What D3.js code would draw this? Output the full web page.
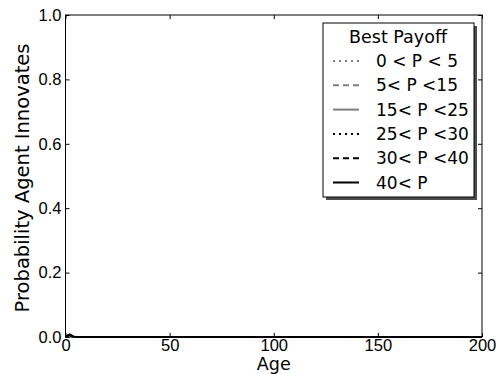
<!DOCTYPE html>
<html>
<head>
<meta charset="utf-8">
<script src="https://cdn.jsdelivr.net/npm/d3@7"></script>
<style>
  body { margin: 0; background: #fff; }
  svg { font-family: "DejaVu Sans", sans-serif; }
</style>
</head>
<body>
<svg id="chart"></svg>
<script>
var seriesNames = ["0 < P < 5", "5< P <15", "15< P <25", "25< P <30", "30< P <40", "40< P"];
var seriesColors = ["#808080", "#808080", "#808080", "#000000", "#000000", "#000000"];
var seriesDash = ["2,4", "6,4", null, "2,4", "6,4", null];

// ages sampled and probabilities (all near zero, small bump at start)
var ages = [0, 1, 2, 3, 4, 5, 10, 50, 100, 150, 200];
var probs = [
  [0, 0.002, 0.004, 0.002, 0, 0, 0, 0, 0, 0, 0],
  [0, 0.003, 0.005, 0.003, 0.001, 0, 0, 0, 0, 0, 0],
  [0, 0.003, 0.006, 0.003, 0.001, 0, 0, 0, 0, 0, 0],
  [0, 0.004, 0.007, 0.004, 0.001, 0, 0, 0, 0, 0, 0],
  [0, 0.004, 0.007, 0.004, 0.001, 0, 0, 0, 0, 0, 0],
  [0, 0.004, 0.008, 0.004, 0.001, 0, 0, 0, 0, 0, 0]
];

var xTicks = [0, 50, 100, 150, 200];
var yTicks = [0, 0.2, 0.4, 0.6, 0.8, 1.0];

var width = 496, height = 374;
var margin = {left: 65.5, right: 14, top: 15, bottom: 37};
var svg = d3.select("#chart").attr("width", width).attr("height", height);

var x = d3.scaleLinear().domain([0, 200]).range([margin.left, width - margin.right]);
var y = d3.scaleLinear().domain([0, 1]).range([height - margin.bottom, margin.top]);

// axes with ticks pointing inwards on all four sides
svg.append("g")
    .attr("transform", "translate(0," + y(0) + ")")
    .call(d3.axisBottom(x).tickValues(xTicks).tickSizeInner(-4).tickSizeOuter(0).tickPadding(2).tickFormat(d3.format("d")))
    .call(g => g.select(".domain").remove())
    .selectAll("text").attr("font-size", 16.5).attr("fill", "#000");
svg.append("g")
    .attr("transform", "translate(0," + y(1) + ")")
    .call(d3.axisTop(x).tickValues(xTicks).tickSizeInner(-4).tickSizeOuter(0).tickFormat(""))
    .call(g => g.select(".domain").remove());
svg.append("g")
    .attr("transform", "translate(" + x(0) + ",0)")
    .call(d3.axisLeft(y).tickValues(yTicks).tickSizeInner(-4).tickSizeOuter(0).tickPadding(4).tickFormat(d3.format(".1f")))
    .call(g => g.select(".domain").remove())
    .selectAll("text").attr("font-size", 16.5).attr("fill", "#000");
svg.append("g")
    .attr("transform", "translate(" + x(200) + ",0)")
    .call(d3.axisRight(y).tickValues(yTicks).tickSizeInner(-4).tickSizeOuter(0).tickFormat(""))
    .call(g => g.select(".domain").remove());

// lines
var line = d3.line().x((d, i) => x(ages[i])).y(d => y(d));
probs.forEach((s, k) => {
  svg.append("path")
      .datum(s)
      .attr("d", line)
      .attr("fill", "none")
      .attr("stroke", seriesColors[k])
      .attr("stroke-width", 2)
      .attr("stroke-dasharray", seriesDash[k]);
});

// frame
svg.append("rect")
    .attr("x", x(0)).attr("y", y(1))
    .attr("width", x(200) - x(0)).attr("height", y(0) - y(1))
    .attr("fill", "none").attr("stroke", "#000").attr("stroke-width", 1);

// axis labels
svg.append("text")
    .attr("x", (x(0) + x(200)) / 2).attr("y", 370)
    .attr("text-anchor", "middle").attr("font-size", 17.5)
    .text("Age");
svg.append("text")
    .attr("transform", "translate(28.5," + ((y(0) + y(1)) / 2 + 2) + ") rotate(-90)")
    .attr("text-anchor", "middle").attr("font-size", 19.5)
    .text("Probability Agent Innovates");

// legend with shadow
var lg = svg.append("g").attr("transform", "translate(323,23)");
lg.append("rect").attr("x", 3).attr("y", 3).attr("width", 151).attr("height", 174).attr("fill", "#4d4d4d");
lg.append("rect").attr("width", 151).attr("height", 174).attr("fill", "#fff").attr("stroke", "#000");
lg.append("text").attr("x", 75).attr("y", 20).attr("text-anchor", "middle").attr("font-size", 17.5).text("Best Payoff");
seriesNames.forEach((name, k) => {
  var yy = 38 + k * 24.3;
  lg.append("line")
      .attr("x1", 10).attr("x2", 36).attr("y1", yy).attr("y2", yy)
      .attr("stroke", seriesColors[k]).attr("stroke-width", 2)
      .attr("stroke-dasharray", seriesDash[k]);
  lg.append("text").attr("x", 53).attr("y", yy + 6).attr("font-size", 17).text(name);
});
</script>
</body>
</html>
